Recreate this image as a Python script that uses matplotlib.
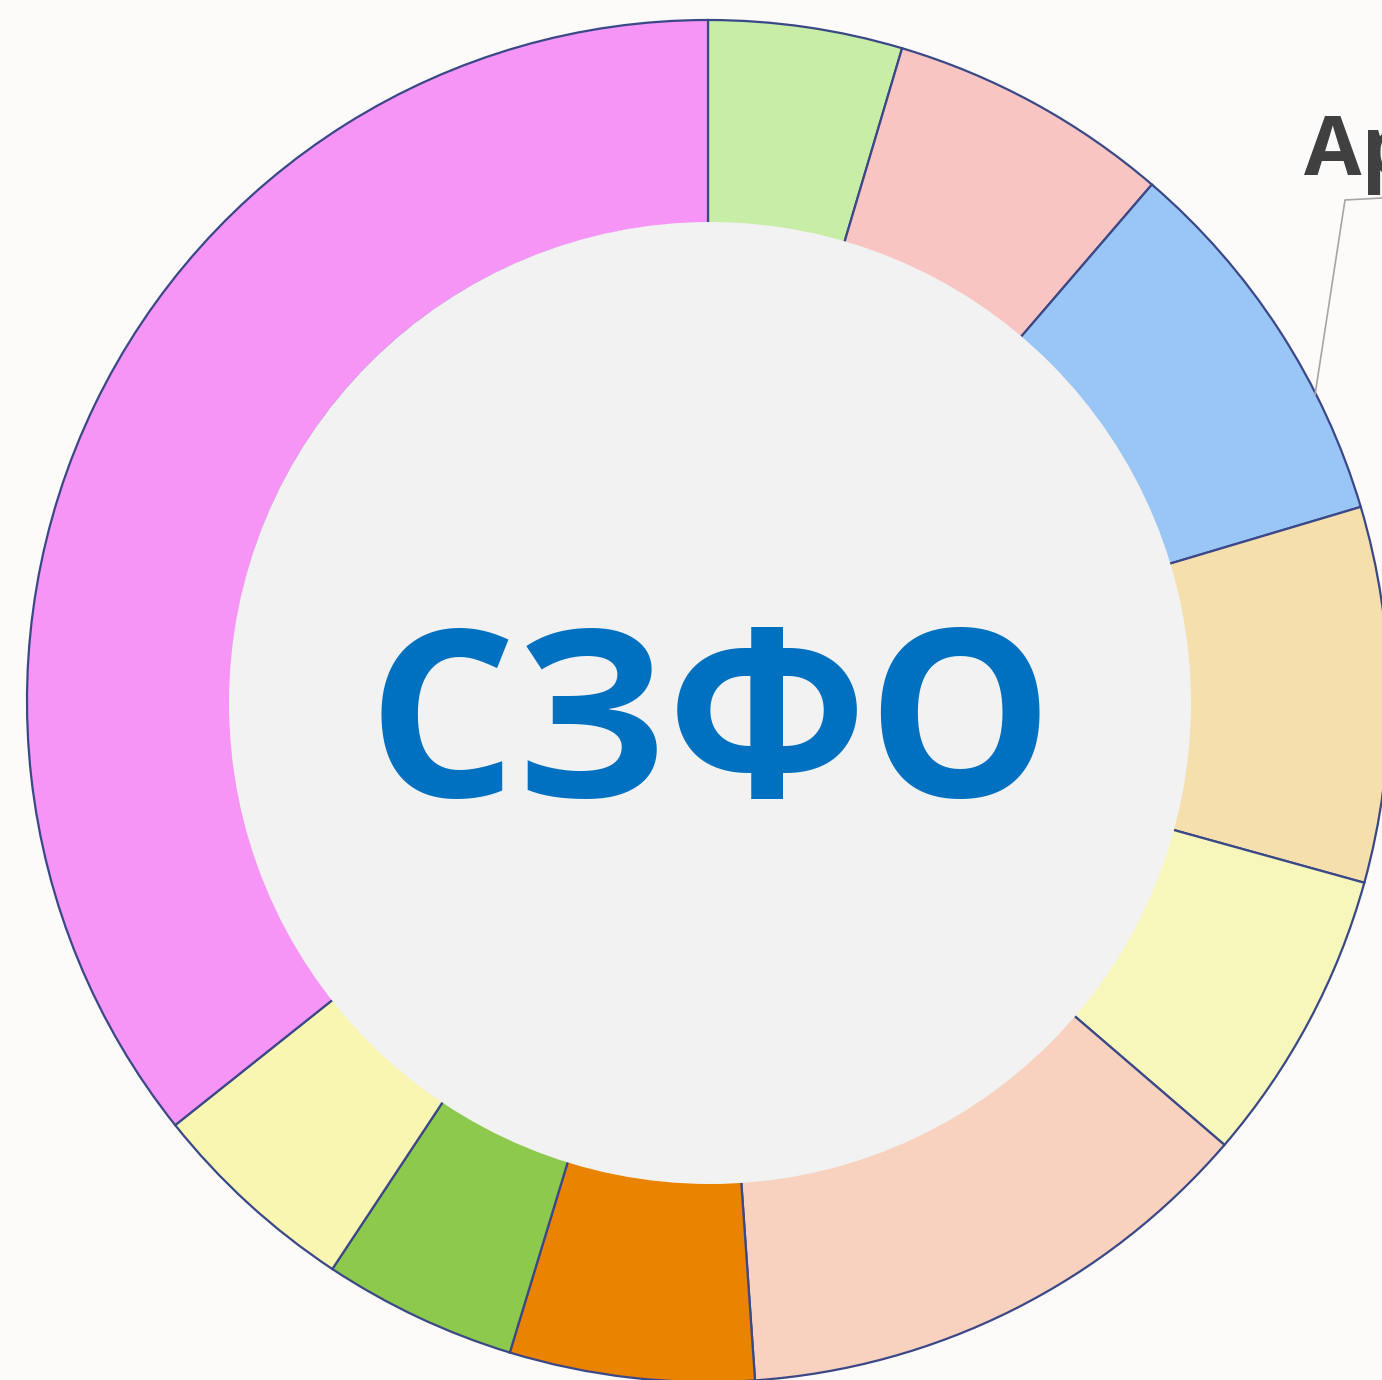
import matplotlib

matplotlib.use("Agg")
import matplotlib.pyplot as plt

# доли сегментов (%), по часовой стрелке от 12 часов
shares = [4.6, 6.7, 9.1, 8.9, 7.0, 12.6, 5.8, 4.6, 5.0, 35.7]
colors = [
    "#C7EDA6", "#F8C5C3", "#9AC6F6", "#F5E0AD", "#F8F7BB",
    "#F8D2BE", "#E98300", "#8DC94C", "#F8F6B0", "#F795F7",
]
center_label = "СЗФО"
callout_label = "Архангельская область"

W, H = 1382, 1380
fig = plt.figure(figsize=(W / 100, H / 100), dpi=100, facecolor="#FCFBF9")
ax = fig.add_axes([0, 0, 1, 1])

cx, cy = 708, H - 701
r_out, r_in = 681, 481

ax.pie(
    shares,
    colors=colors,
    startangle=90,
    counterclock=False,
    center=(cx, cy),
    radius=r_out,
    frame=True,
    wedgeprops=dict(width=r_out - r_in + 4, edgecolor="#3A4888", linewidth=1.6),
)
ax.set_xlim(0, W)
ax.set_ylim(0, H)
ax.set_aspect("equal")
ax.axis("off")

ax.add_patch(plt.Circle((cx + 2, cy - 2), r_in, facecolor="#F2F2F2", edgecolor="none", zorder=3))

ax.text(cx + 3, H - 797, center_label, ha="center", va="baseline", color="#0070C0",
        fontsize=168, fontweight="bold", family="Open Sans", zorder=4)

# выноска
ax.plot([1315, 1345, W], [H - 395, H - 200, H - 198], color="#A6A6A6", lw=1.2, zorder=4)
ax.text(1304, H - 175, callout_label, ha="left", va="baseline", color="#404040",
        fontsize=60, fontweight="bold", family="Open Sans", zorder=4)

fig.savefig("out.png", dpi=100, facecolor=fig.get_facecolor())
